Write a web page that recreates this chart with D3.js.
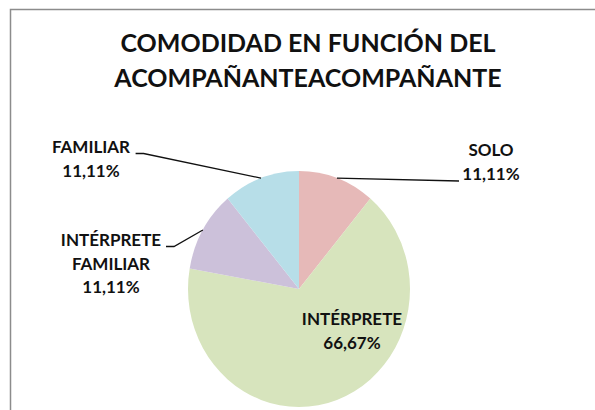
<!DOCTYPE html>
<html>
<head>
<meta charset="utf-8">
<script src="https://cdn.jsdelivr.net/npm/d3@7"></script>
<style>
  body { margin: 0; background: #fff; }
  text { font-family: Lato, "Open Sans", sans-serif; font-weight: bold; fill: #111; }
</style>
</head>
<body>
<script>
// chart data
var titleLines = ["COMODIDAD EN FUNCIÓN DEL", "ACOMPAÑANTEACOMPAÑANTE"];
var categories = ["SOLO", "INTÉRPRETE", "INTÉRPRETE FAMILIAR", "FAMILIAR"];
var values = [11.11, 66.67, 11.11, 11.11];
var colors = ["#e6b9b8", "#d7e4bd", "#ccc1da", "#b7dee8"];
var labelLines = [["SOLO", "11,11%"], ["INTÉRPRETE", "66,67%"], ["INTÉRPRETE", "FAMILIAR", "11,11%"], ["FAMILIAR", "11,11%"]];

var width = 595, height = 410;
var cx = 299, cy = 289, rx = 111, ry = 118;

// where each label block sits (x = centre of text, y = first baseline)
var labelPos = [
    { x: 491, y: 156, inside: false },
    { x: 352, y: 325, inside: true },
    { x: 111, y: 246, inside: false },
    { x: 91, y: 153, inside: false }
];

var svg = d3.select("body").append("svg")
    .attr("width", width)
    .attr("height", height);

// frame (only top and left edges are visible in the crop)
svg.append("path")
    .attr("d", "M10.5," + height + "V9.5H" + width)
    .attr("fill", "none")
    .attr("stroke", "#8c8c8c")
    .attr("stroke-width", 1.5);

svg.selectAll("text.title").data(titleLines).enter().append("text")
    .attr("class", "title")
    .attr("x", 308)
    .attr("y", function(d, i) { return 52 + i * 35; })
    .attr("text-anchor", "middle")
    .style("font-size", "25px")
    .text(function(d) { return d; });

var data = categories.map(function(c, i) {
    return { name: c, value: values[i], color: colors[i], lines: labelLines[i], pos: labelPos[i] };
});

var pie = d3.pie().sort(null).value(function(d) { return d.value; });
var arcs = pie(data);
var arc = d3.arc().innerRadius(0).outerRadius(rx);

// pie is slightly taller than wide in the reference
svg.append("g")
    .attr("transform", "translate(" + cx + "," + cy + ") scale(1," + (ry / rx) + ")")
    .selectAll("path").data(arcs).enter().append("path")
    .attr("d", arc)
    .attr("fill", function(d) { return d.data.color; });

// point on the pie edge at the middle of a slice
function edgePoint(d) {
    var a = (d.startAngle + d.endAngle) / 2;
    return [cx + rx * Math.sin(a), cy - ry * Math.cos(a)];
}

var outside = arcs.filter(function(d) { return !d.data.pos.inside; });

svg.selectAll("path.leader").data(outside).enter().append("path")
    .attr("class", "leader")
    .attr("fill", "none")
    .attr("stroke", "#111")
    .attr("stroke-width", 1.3)
    .attr("d", function(d) {
        var p = edgePoint(d);
        var pos = d.data.pos;
        if (p[0] > cx) {
            // right side: runs to the left of the last line
            var ly = pos.y + 24 * (d.data.lines.length - 1) + 1;
            return "M" + p[0] + "," + p[1] + "L" + (pos.x - 32) + "," + ly;
        }
        var w = d.data.lines[0].length * 5.2;
        var sx = pos.x + w + 3;
        return "M" + sx + "," + (pos.y + 0.5) + "H" + (sx + 8) + "L" + p[0] + "," + p[1];
    });

var labels = svg.selectAll("text.label").data(arcs).enter().append("text")
    .attr("class", "label")
    .attr("text-anchor", "middle")
    .style("font-size", "17px");

labels.selectAll("tspan").data(function(d) {
    return d.data.lines.map(function(l) { return { t: l, pos: d.data.pos }; });
}).enter().append("tspan")
    .attr("x", function(d) { return d.pos.x; })
    .attr("y", function(d, i) { return d.pos.y + i * 23.5; })
    .text(function(d) { return d.t; });
</script>
</body>
</html>
